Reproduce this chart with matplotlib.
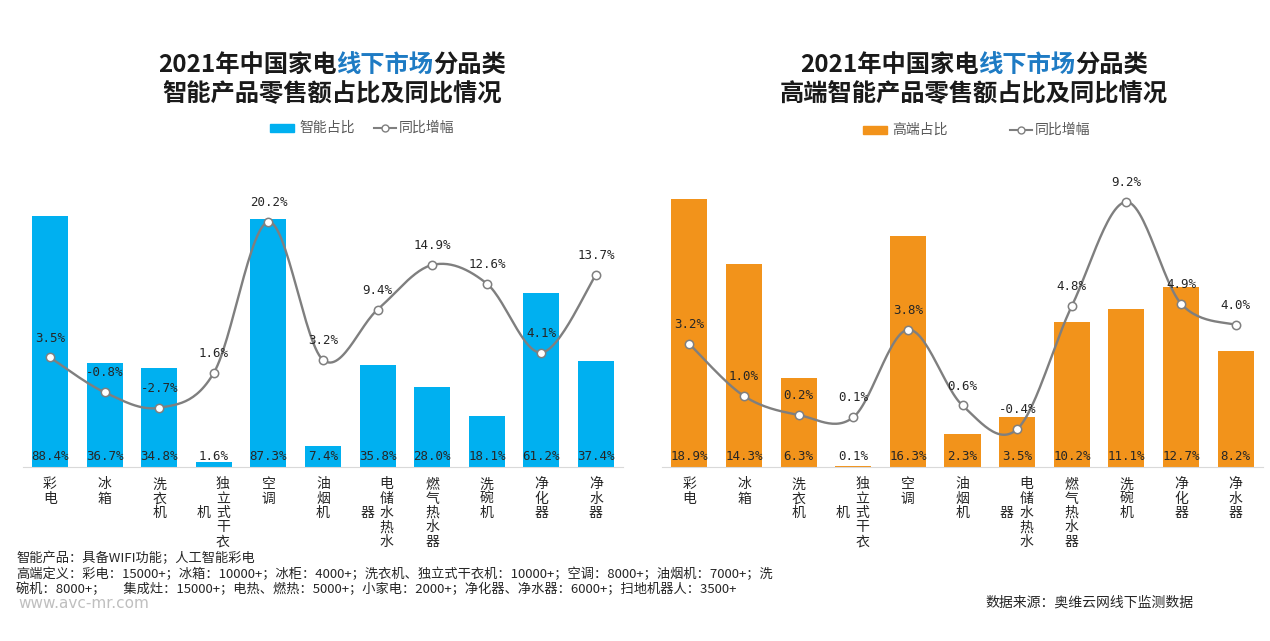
import matplotlib
matplotlib.use("Agg")
import matplotlib.pyplot as plt
import numpy as np
from matplotlib.patches import Rectangle
from matplotlib.lines import Line2D

plt.rcParams['font.family'] = ['Noto Sans CJK SC', 'DejaVu Sans']

categories = ['彩电', '冰箱', '洗衣机', '独立式干衣机', '空调', '油烟机',
              '电储水热水器', '燃气热水器', '洗碗机', '净化器', '净水器']
smart_share = [88.4, 36.7, 34.8, 1.6, 87.3, 7.4, 35.8, 28.0, 18.1, 61.2, 37.4]
smart_yoy = [3.5, -0.8, -2.7, 1.6, 20.2, 3.2, 9.4, 14.9, 12.6, 4.1, 13.7]
high_share = [18.9, 14.3, 6.3, 0.1, 16.3, 2.3, 3.5, 10.2, 11.1, 12.7, 8.2]
high_yoy = [3.2, 1.0, 0.2, 0.1, 3.8, 0.6, -0.4, 4.8, 9.2, 4.9, 4.0]

BLUE = '#00B0F0'
ORANGE = '#F2931B'
LINE = '#7F7F7F'
TXT = '#262626'

W, H = 1270, 641
fig = plt.figure(figsize=(W / 100, H / 100), dpi=100)


def fx(px):
    return px / W


def fy(py):
    return 1 - py / H


def smooth(xs, ys, n=30):
    pts = np.column_stack([xs, ys]).astype(float)
    out = []
    m = len(pts)
    for i in range(m - 1):
        p0 = pts[i]
        p3 = pts[i + 1]
        pm = pts[i - 1] if i > 0 else pts[i]
        pp = pts[i + 2] if i + 2 < m else pts[i + 1]
        p1 = p0 + (p3 - pm) / 6.0
        p2 = p3 - (pp - p0) / 6.0
        t = np.linspace(0, 1, n)[:, None]
        seg = ((1 - t) ** 3) * p0 + 3 * ((1 - t) ** 2) * t * p1 + 3 * (1 - t) * t ** 2 * p2 + t ** 3 * p3
        if i > 0:
            seg = seg[1:]
        out.append(seg)
    out = np.vstack(out)
    return out[:, 0], out[:, 1]


def panel(left_px, right_px, share, yoy, color, y1max, y2min, y2max):
    bottom_px, top_px = 467, 183
    ax = fig.add_axes([fx(left_px), fy(bottom_px), fx(right_px - left_px), (bottom_px - top_px) / H])
    x = np.arange(len(categories))
    ax.bar(x, share, width=0.66, color=color, zorder=2)
    ax.set_xlim(-0.5, len(categories) - 0.5)
    ax.set_ylim(0, y1max)
    for s in ['top', 'left', 'right']:
        ax.spines[s].set_visible(False)
    ax.spines['bottom'].set_color('#D9D9D9')
    ax.set_xticks([])
    ax.set_yticks([])
    for i, v in enumerate(share):
        ax.annotate(f'{v:.1f}%', xy=(i, 0), xytext=(0, 7.5), textcoords='offset points',
                    ha='center', va='center', fontsize=9, family='DejaVu Sans Mono',
                    color=TXT, zorder=5)
    # category labels (vertical stacked)
    pitch = 10.3  # pt
    top = 12.5
    for i, lab in enumerate(categories):
        if len(lab) <= 5:
            cols = [(0, lab, 0)]
        else:
            rest = lab[5:]
            start = (5 - len(rest)) / 2.0
            cols = [(6.5, lab[:5], 0), (-7.5, rest, start)]
        for dx, txt, st in cols:
            for k, ch in enumerate(txt):
                ax.annotate(ch, xy=(i, 0), xycoords=ax.get_xaxis_transform(),
                            xytext=(dx, -(top + (st + k) * pitch)), textcoords='offset points',
                            ha='center', va='center', fontsize=10, color=TXT,
                            annotation_clip=False)
    ax2 = ax.twinx()
    ax2.set_ylim(y2min, y2max)
    ax2.set_axis_off()
    sx, sy = smooth(x, yoy)
    ax2.plot(sx, sy, color=LINE, lw=1.7, zorder=3)
    ax2.plot(x, yoy, ls='none', marker='o', ms=6, mfc='white', mec=LINE, mew=1.1, zorder=4)
    for i, v in enumerate(yoy):
        ax2.annotate(f'{v:.1f}%', xy=(i, v), xytext=(0, 14), textcoords='offset points',
                     ha='center', va='center', fontsize=9, family='DejaVu Sans Mono',
                     color=TXT, zorder=5)
    return ax


panel(22.7, 623.3, smart_share, smart_yoy, BLUE, 100, -10, 25)
panel(662, 1263, high_share, high_yoy, ORANGE, 20, -2, 10)

# Titles with partial color
renderer = fig.canvas.get_renderer()


def color_title(cx_px, cy_px, parts, size=17.5):
    texts = []
    for s, c in parts:
        t = fig.text(0, fy(cy_px), s, color=c, fontsize=size, fontweight='bold',
                     ha='left', va='center')
        texts.append(t)
    widths = [t.get_window_extent(renderer).width for t in texts]
    total = sum(widths)
    x = cx_px - total / 2
    for t, w in zip(texts, widths):
        t.set_x(fx(x))
        x += w


TBLUE = '#1E7BC4'
for cx, line2 in [(332, '智能产品零售额占比及同比情况'), (974, '高端智能产品零售额占比及同比情况')]:
    color_title(cx, 65, [('2021年中国家电', '#1A1A1A'), ('线下市场', TBLUE), ('分品类', '#1A1A1A')])
    color_title(cx, 94, [(line2, '#1A1A1A')])

# Legends


def legend(rect_x, color, label1, line_x, label2, y):
    fig.add_artist(Rectangle((fx(rect_x), fy(y + 4)), fx(24), 8 / H, color=color,
                             transform=fig.transFigure))
    fig.text(fx(rect_x + 29), fy(y), label1, fontsize=10, color='#595959', va='center', ha='left')
    fig.add_artist(Line2D([fx(line_x), fx(line_x + 22)], [fy(y), fy(y)], color=LINE, lw=1.5,
                          transform=fig.transFigure))
    fig.add_artist(Line2D([fx(line_x + 11)], [fy(y)], ls='none', marker='o', ms=5, mfc='white',
                          mec=LINE, mew=1, transform=fig.transFigure))
    fig.text(fx(line_x + 25), fy(y), label2, fontsize=10, color='#595959', va='center', ha='left')


legend(270, BLUE, '智能占比', 374, '同比增幅', 128)
legend(863, ORANGE, '高端占比', 1010, '同比增幅', 130)

# Footnotes
fn = 9.5
fig.text(fx(16), fy(558), '智能产品：具备WIFI功能；人工智能彩电', fontsize=fn, color=TXT, va='center')
fig.text(fx(16), fy(574), '高端定义：彩电：15000+；冰箱：10000+；冰柜：4000+；洗衣机、独立式干衣机：10000+；空调：8000+；油烟机：7000+；洗',
         fontsize=fn, color=TXT, va='center')
fig.text(fx(16), fy(589), '碗机：8000+；      集成灶：15000+；电热、燃热：5000+；小家电：2000+；净化器、净水器：6000+；扫地机器人：3500+',
         fontsize=fn, color=TXT, va='center')
fig.text(fx(18), fy(603), 'www.avc-mr.com', fontsize=11, color='#BFBFBF', va='center',
         family='DejaVu Sans')
fig.text(fx(985), fy(603), '数据来源：奥维云网线下监测数据', fontsize=10, color=TXT, va='center')

fig.savefig('out.png', dpi=100)
